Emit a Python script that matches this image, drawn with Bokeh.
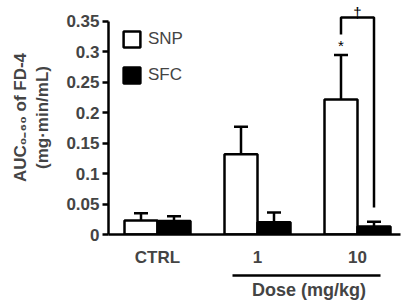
from bokeh.plotting import figure
from bokeh.models import (ColumnDataSource, Range1d, FixedTicker, LinearAxis, Whisker,
                          TeeHead, Legend, LegendItem)
from bokeh.core.properties import value
from bokeh.embed import file_html
from bokeh.resources import INLINE

# ---- data ----
categories = ["CTRL", "1", "10"]
snp_mean = [0.023, 0.132, 0.222]
snp_err = [0.012, 0.045, 0.073]
sfc_mean = [0.022, 0.020, 0.013]
sfc_err = [0.008, 0.016, 0.008]
series_names = ["SNP", "SFC"]
y_ticks = [0, 0.05, 0.1, 0.15, 0.2, 0.25, 0.3, 0.35]
y_tick_labels = ["0", "0.05", "0.1", "0.15", "0.2", "0.25", "0.3", "0.35"]
dose_title = "Dose (mg/kg)"

FONT = "Liberation Sans"
bar_w = 0.33
xc = [i + 1 for i in range(len(categories))]
x_snp = [x - bar_w / 2 for x in xc]
x_sfc = [x + bar_w / 2 for x in xc]

src_snp = ColumnDataSource(dict(x=x_snp, top=snp_mean,
                                upper=[m + e for m, e in zip(snp_mean, snp_err)]))
src_sfc = ColumnDataSource(dict(x=x_sfc, top=sfc_mean,
                                upper=[m + e for m, e in zip(sfc_mean, sfc_err)]))

p = figure(width=409, height=304, output_backend="svg", toolbar_location=None,
           x_range=Range1d(0.51, 3.43), y_range=Range1d(0, 0.3845),
           min_border_left=108, min_border_right=9, min_border_top=0, min_border_bottom=70)
p.outline_line_color = None
p.grid.visible = False
p.background_fill_color = "white"
p.border_fill_color = "white"

# error bars (upper only)
for src in (src_snp, src_sfc):
    w = Whisker(base="x", lower="top", upper="upper", source=src,
                upper_head=TeeHead(size=14, line_width=2.5, line_color="black"),
                lower_head=None, line_width=2.5, line_color="black")
    p.add_layout(w)

r_snp = p.vbar(x="x", top="top", width=bar_w, source=src_snp, fill_color="white",
               line_color="black", line_width=2.5)
r_sfc = p.vbar(x="x", top="top", width=bar_w, source=src_sfc, fill_color="black",
               line_color="black", line_width=2.5)

# significance bracket
bx0, bx1 = x_snp[2], x_sfc[2]
p.line(x=[bx0, bx0, bx1, bx1], y=[0.3286, 0.3566, 0.3566, 0.0444],
       line_color="black", line_width=2.5)
p.text(x=[bx0], y=[0.311], text=["*"], text_font=value(FONT), text_font_size="15px",
       text_align="center", text_baseline="middle", text_color="black")
p.text(x=[xc[2]], y=[0.3648], text=["\u2020"], text_font=value(FONT), text_font_size="15px",
       text_align="center", text_baseline="alphabetic", text_color="black")

# y axis
ya = p.yaxis[0]
ya.ticker = FixedTicker(ticks=y_ticks)
ya.major_label_overrides = {t: l for t, l in zip(y_ticks, y_tick_labels)}
ya.bounds = (0, 0.35)
ya.axis_line_width = 2.5
ya.major_tick_line_width = 2.5
ya.major_tick_out = 6
ya.major_tick_in = 0
ya.minor_tick_line_color = None
ya.major_label_standoff = 3
ya.major_label_text_font = FONT
ya.major_label_text_font_style = "bold"
ya.major_label_text_font_size = "17px"
ya.axis_label = "AUC\u2080\u208b\u2086\u2080 of FD-4\n(mg\u00b7min/mL)"
ya.axis_label_text_font = FONT
ya.axis_label_text_font_style = "bold"
ya.axis_label_text_font_size = "17px"
ya.axis_label_standoff = 11

# x axis
xa = p.xaxis[0]
xa.ticker = FixedTicker(ticks=xc)
xa.major_label_overrides = {x: c for x, c in zip(xc, categories)}
xa.axis_line_width = 2.5
xa.major_tick_line_color = None
xa.minor_tick_line_color = None
xa.major_tick_out = 0
xa.major_tick_in = 0
xa.major_label_standoff = 13
xa.major_label_text_font = FONT
xa.major_label_text_font_style = "bold"
xa.major_label_text_font_size = "17px"
xa.axis_label = " "
xa.axis_label_text_font_size = "3px"
xa.axis_label_standoff = 0

# dose axis
dose_center = 2.515
da = LinearAxis(ticker=FixedTicker(ticks=[dose_center]), bounds=(1.75, 3.23))
da.major_label_overrides = {dose_center: dose_title}
da.axis_line_width = 2.5
da.major_tick_line_color = None
da.minor_tick_line_color = None
da.major_tick_out = 0
da.major_tick_in = 0
da.major_label_standoff = 4
da.major_label_text_font = FONT
da.major_label_text_font_style = "bold"
da.major_label_text_font_size = "18px"
p.add_layout(da, "below")

legend = Legend(items=[LegendItem(label=series_names[0], renderers=[r_snp]),
                       LegendItem(label=series_names[1], renderers=[r_sfc])],
                location=(13, 149), margin=0, padding=0, spacing=16,
                glyph_width=21, glyph_height=20, label_standoff=6,
                label_text_font=FONT, label_text_font_size="17px",
                border_line_color=None, background_fill_alpha=0)
p.add_layout(legend)

open("out.html", "w").write(file_html(p, INLINE))
